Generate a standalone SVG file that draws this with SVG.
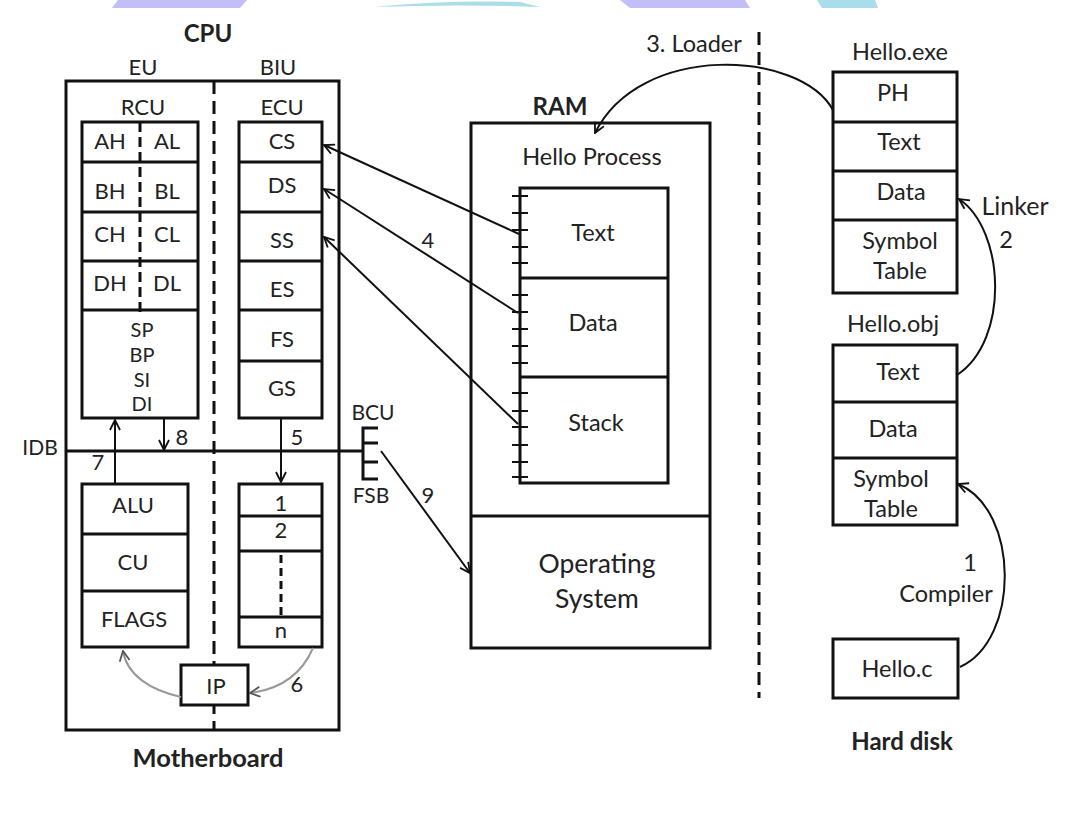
<svg xmlns="http://www.w3.org/2000/svg" width="1080" height="819" viewBox="0 0 1080 819">
<defs>
<style>
text{font-family:Lato,"Liberation Sans",sans-serif;font-size:22px;fill:#222;text-anchor:middle}
.b{font-weight:bold;font-size:24px}
.m{font-size:23.5px}
.l{font-size:25px}
.xl{font-size:26.5px}
.s{font-size:21px}
.r{font-size:20px}
.bx{fill:#fff;stroke:#111;stroke-width:3}
.ln{stroke:#111;stroke-width:3;fill:none}
.dash{stroke:#111;stroke-width:3;fill:none;stroke-dasharray:13 7}
.ar{stroke:#111;stroke-width:2;fill:none}
.gr{stroke:#999;stroke-width:2;fill:none}
.tk{stroke:#111;stroke-width:2}
</style>
<marker id="ah" viewBox="0 0 12 12" refX="11" refY="6" markerWidth="12" markerHeight="12" markerUnits="userSpaceOnUse" orient="auto">
<path d="M1,1 L11,6 L1,11" fill="none" stroke="#111" stroke-width="1.8"/>
</marker>
<marker id="ahg" viewBox="0 0 12 12" refX="11" refY="6" markerWidth="12" markerHeight="12" markerUnits="userSpaceOnUse" orient="auto">
<path d="M1,1 L11,6 L1,11" fill="none" stroke="#555" stroke-width="1.8"/>
</marker>
</defs>
<rect width="1080" height="819" fill="#fff"/>
<g id="decor">
<path d="M118,0 L247,0 L240,8 L112,8 Z" fill="#c3bef7"/>
<path d="M373,7 Q450,0 520,2 L540,7 Q460,4 373,7 Z" fill="#a9dde9"/>
<path d="M620,0 L745,0 L750,8 L630,8 Z" fill="#c3bef7"/>
<path d="M817,0 L875,0 L878,8 L822,8 Z" fill="#a9dde9"/>
</g>
<g id="cpu">
<text class="b" x="208" y="42">CPU</text>
<text x="143" y="75">EU</text>
<text x="278" y="75">BIU</text>
<rect class="bx" x="66" y="81" width="273" height="649"/>
<line class="dash" x1="214" y1="81" x2="214" y2="730"/>
<text x="208" y="767" class="b" style="font-size:25.5px">Motherboard</text>
</g>
<g id="rcu">
<text x="143" y="115">RCU</text>
<rect class="bx" x="82" y="122" width="116" height="296"/>
<line class="ln" x1="82" y1="162" x2="198" y2="162"/>
<line class="ln" x1="82" y1="212" x2="198" y2="212"/>
<line class="ln" x1="82" y1="261" x2="198" y2="261"/>
<line class="ln" x1="82" y1="310" x2="198" y2="310"/>
<line class="ln" x1="140" y1="122" x2="140" y2="312" stroke-dasharray="10 5"/>
<text x="110" y="149">AH</text><text x="167" y="149">AL</text>
<text x="110" y="199">BH</text><text x="167" y="199">BL</text>
<text x="110" y="242">CH</text><text x="167" y="242">CL</text>
<text x="110" y="291">DH</text><text x="167" y="291">DL</text>
<text class="r" x="142" y="337">SP</text>
<text class="r" x="142" y="362">BP</text>
<text class="r" x="142" y="387">SI</text>
<text class="r" x="142" y="411">DI</text>
</g>
<g id="ecu">
<text x="282" y="115">ECU</text>
<rect class="bx" x="239" y="122" width="83" height="296"/>
<line class="ln" x1="239" y1="162" x2="322" y2="162"/>
<line class="ln" x1="239" y1="212" x2="322" y2="212"/>
<line class="ln" x1="239" y1="261" x2="322" y2="261"/>
<line class="ln" x1="239" y1="310" x2="322" y2="310"/>
<line class="ln" x1="239" y1="361" x2="322" y2="361"/>
<text x="282" y="149">CS</text>
<text x="282" y="193">DS</text>
<text x="282" y="248">SS</text>
<text x="282" y="297">ES</text>
<text x="282" y="347">FS</text>
<text x="282" y="396">GS</text>
</g>
<g id="alu">
<rect class="bx" x="82" y="484" width="106" height="163"/>
<line class="ln" x1="82" y1="534" x2="188" y2="534"/>
<line class="ln" x1="82" y1="591" x2="188" y2="591"/>
<text x="133" y="513">ALU</text>
<text x="133" y="570">CU</text>
<text x="134" y="627">FLAGS</text>
</g>
<g id="queue">
<rect class="bx" x="239" y="484" width="83" height="163"/>
<line class="ln" x1="239" y1="516" x2="322" y2="516"/>
<line class="ln" x1="239" y1="551" x2="322" y2="551"/>
<line class="ln" x1="239" y1="617" x2="322" y2="617"/>
<line class="ln" x1="281" y1="555" x2="281" y2="615" stroke-dasharray="8 5"/>
<text x="281" y="511">1</text>
<text x="281" y="538">2</text>
<text x="281" y="638">n</text>
</g>
<g id="ip">
<rect class="bx" x="181" y="665" width="67" height="40"/>
<text x="216" y="694">IP</text>
</g>
<g id="bus">
<text class="s" x="40" y="455">IDB</text>
<line class="ln" x1="66" y1="451" x2="363" y2="451"/>
<path class="ln" d="M378,428 L363,428 L363,479 L378,479 M363,443 L378,443 M363,462 L378,462"/>
<text class="s" x="373" y="420">BCU</text>
<text class="s" x="371" y="503">FSB</text>
</g>
<g id="ram">
<text class="b" x="560" y="115">RAM</text>
<rect class="bx" x="471" y="123" width="239" height="525"/>
<line class="ln" x1="471" y1="516" x2="710" y2="516"/>
<text class="m" x="592" y="165">Hello Process</text>
<text class="xl" x="597" y="573">Operating</text>
<text class="xl" x="597" y="608">System</text>
</g>
<g id="process">
<rect class="bx" x="520" y="188" width="148" height="295"/>
<line class="ln" x1="520" y1="278" x2="668" y2="278"/>
<line class="ln" x1="520" y1="377" x2="668" y2="377"/>
<text class="m" x="593" y="241">Text</text>
<text class="m" x="593" y="331">Data</text>
<text class="m" x="596" y="431">Stack</text>
<path class="tk" d="M512,196 H528 M512,213 H528 M512,230 H528 M512,247 H528 M512,263 H528 M512,295 H528 M512,312 H528 M512,329 H528 M512,346 H528 M512,363 H528 M512,393 H528 M512,411 H528 M512,427 H528 M512,445 H528 M512,462 H528 M512,477 H528"/>
</g>
<line id="harddisk-divider" class="dash" x1="759" y1="32" x2="759" y2="698" stroke-dasharray="14 7"/>
<g id="hello-exe">
<text class="m" x="900" y="60">Hello.exe</text>
<rect class="bx" x="833" y="72" width="124" height="221"/>
<line class="ln" x1="833" y1="122" x2="957" y2="122"/>
<line class="ln" x1="833" y1="171" x2="957" y2="171"/>
<line class="ln" x1="833" y1="220" x2="957" y2="220"/>
<text class="m" x="893" y="101">PH</text>
<text class="m" x="899" y="150">Text</text>
<text class="m" x="901" y="200">Data</text>
<text class="m" x="900" y="249">Symbol</text>
<text class="m" x="900" y="279">Table</text>
</g>
<g id="hello-obj">
<text class="m" x="893" y="332">Hello.obj</text>
<rect class="bx" x="833" y="345" width="124" height="180"/>
<line class="ln" x1="833" y1="402" x2="957" y2="402"/>
<line class="ln" x1="833" y1="458" x2="957" y2="458"/>
<text class="m" x="898" y="380">Text</text>
<text class="m" x="893" y="437">Data</text>
<text class="m" x="891" y="487">Symbol</text>
<text class="m" x="891" y="517">Table</text>
</g>
<g id="hello-c">
<rect class="bx" x="833" y="639" width="125" height="59"/>
<text class="m" x="897" y="677">Hello.c</text>
<text class="b" x="902" y="750">Hard disk</text>
</g>
<g id="connectors">
<line class="ar" x1="115" y1="483" x2="115" y2="420" marker-end="url(#ah)"/>
<line class="ar" x1="164" y1="419" x2="164" y2="450" marker-end="url(#ah)"/>
<line class="ar" x1="281" y1="419" x2="281" y2="482" marker-end="url(#ah)"/>
<line class="ar" x1="519" y1="234" x2="324" y2="145" marker-end="url(#ah)"/>
<line class="ar" x1="518" y1="313" x2="324" y2="189" marker-end="url(#ah)"/>
<line class="ar" x1="518" y1="424" x2="324" y2="237" marker-end="url(#ah)"/>
<line class="ar" x1="381" y1="451" x2="470" y2="573" marker-end="url(#ah)"/>
<path class="ar" d="M833,110 C800,50 640,42 595,133" marker-end="url(#ah)"/>
<path class="ar" d="M957,375 C1010,340 1005,230 959,199" marker-end="url(#ah)"/>
<path class="ar" d="M960,667 C1020,640 1020,510 958,484" marker-end="url(#ah)"/>
<path class="gr" d="M313,648 C300,678 275,690 250,693" marker-end="url(#ahg)"/>
<path class="gr" d="M181,697 C150,690 127,675 123,651" marker-end="url(#ahg)"/>
<text x="98" y="470">7</text>
<text x="182" y="445">8</text>
<text x="297" y="445">5</text>
<text x="428" y="248">4</text>
<text x="428" y="503">9</text>
<text x="297" y="692">6</text>
<text class="m" x="694" y="52">3. Loader</text>
<text class="l" x="1015" y="215">Linker</text>
<text class="m" x="1006" y="248">2</text>
<text class="m" x="970" y="571">1</text>
<text class="m" x="946" y="602">Compiler</text>
</g>
</svg>
